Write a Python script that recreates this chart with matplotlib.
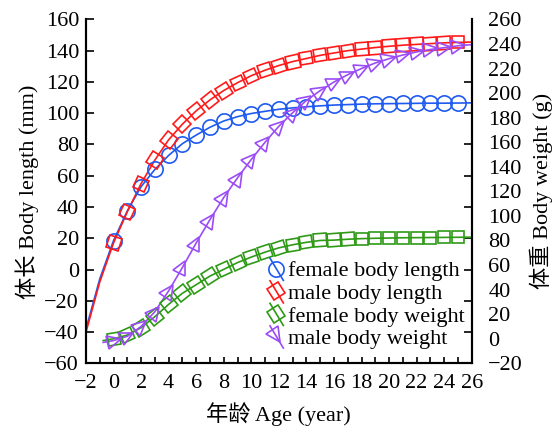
import numpy as np
import matplotlib
matplotlib.use('Agg')
import matplotlib.pyplot as plt
from matplotlib.lines import Line2D
from matplotlib.markers import MarkerStyle
from matplotlib.transforms import Affine2D
from matplotlib.legend_handler import HandlerBase

plt.rcParams['font.family'] = ['Liberation Serif', 'Noto Sans CJK SC']
plt.rcParams['font.size'] = 16

# ---- data ----
AGE = list(range(26))
F_LEN = [18.5, 37.5, 53, 64, 73, 80.5, 86, 91, 95, 97.8, 99.8, 101.2, 102.5,
         103.4, 104.1, 104.7, 105.2, 105.5, 105.8, 106, 106.1, 106.2, 106.3,
         106.4, 106.4, 106.5]
M_LEN = [17, 37, 55, 70, 83, 93, 101.5, 108.5, 114.5, 119.5, 124, 127.5, 130.5,
         133, 135, 137, 138.5, 140, 141, 142, 142.8, 143.5, 144, 144.5, 145, 145.3]
F_WT = [0, 3, 9, 18, 28, 37, 44, 51, 56.5, 62, 66.5, 70.5, 74, 76.5, 78.5, 80,
        80.3, 81, 81.5, 81.8, 82, 82.2, 82.3, 82.4, 82.5, 82.6]
M_WT = [-1.5, 2, 10, 22, 39, 58, 78, 97, 115, 131, 146, 160, 173, 184, 194, 202,
        209, 215, 220, 224.5, 228, 231, 233.5, 235.5, 237, 238.5]

# line-only ends of the fitted curves (no markers there)
LEN_HEAD_AGE = [-2, -1]
F_LEN_HEAD = [-38, -6]
M_LEN_HEAD = [-40, -8]
WT_HEAD_AGE = [-0.75]
F_WT_HEAD = [-1.5]
M_WT_HEAD = [-3]
TAIL_AGE = [26]
F_LEN_TAIL = [106.6]
M_LEN_TAIL = [145.5]
F_WT_TAIL = [82.7]
M_WT_TAIL = [239.5]

LABELS = ['female body length', 'male body length', 'female body weight', 'male body weight']
C_BLUE, C_RED, C_GREEN, C_PURPLE = '#1f5af0', '#ff1a1a', '#2e9a16', '#9b4cf5'

fig = plt.figure(figsize=(5.55, 4.34), dpi=100)
ax = fig.add_axes([86/555, 1-363.3/434, (471.7-86)/555, (363.3-19.4)/434])
ax2 = ax.twinx()
ax.set_xlim(-2, 26); ax.set_ylim(-60, 160)
ax2.set_ylim(-20, 260)

series = [
    (ax, LEN_HEAD_AGE, F_LEN_HEAD, F_LEN, F_LEN_TAIL, C_BLUE, 'o', 11),
    (ax, LEN_HEAD_AGE, M_LEN_HEAD, M_LEN, M_LEN_TAIL, C_RED, 's', 9),
    (ax2, WT_HEAD_AGE, F_WT_HEAD, F_WT, F_WT_TAIL, C_GREEN, 's', 9),
    (ax2, WT_HEAD_AGE, M_WT_HEAD, M_WT, M_WT_TAIL, C_PURPLE, '>', 10),
]
handles = []
for a, hx, hy, vals, tail, c, m, ms in series:
    cx = np.array(hx + AGE + TAIL_AGE, float)
    cy = np.array(hy + vals + tail, float)
    a.plot(cx, cy, color=c, lw=1.2, zorder=2)
    # markers turned along the curve direction (screen space)
    d = a.transData.transform(np.column_stack([cx, cy]))
    ang = np.degrees(np.arctan2(np.gradient(d[:, 1]), np.gradient(d[:, 0])))
    ang_m = np.interp(AGE, cx, ang)
    for x, y, t in zip(AGE, vals, ang_m):
        a.plot([x], [y], ls='none', marker=MarkerStyle(m, transform=Affine2D().rotate_deg(t)),
               ms=ms, mfc='none', mec=c, mew=1.2, zorder=3)
    handles.append(Line2D([], [], color=c, lw=1.2, marker=m, ms=ms))


class SlantHandler(HandlerBase):
    def create_artists(self, legend, orig_handle, xdescent, ydescent, width, height, fontsize, trans):
        x0 = -xdescent
        yc = -ydescent + height / 2
        xs = [x0, x0 + width]
        ys = [yc + 7.5, yc - 8.5]
        ang = np.degrees(np.arctan2(ys[1] - ys[0], xs[1] - xs[0]))
        c = orig_handle.get_color()
        ln = Line2D(xs, ys, color=c, lw=1.2)
        t = 7.5 / 16
        mk = Line2D([xs[0] + t * width], [yc], ls='none',
                    marker=MarkerStyle(orig_handle.get_marker(), transform=Affine2D().rotate_deg(ang)),
                    ms=orig_handle.get_markersize(), mfc='none', mec=c, mew=1.2)
        ln.set_transform(trans); mk.set_transform(trans)
        return [ln, mk]


ax2.legend(handles, LABELS, handler_map={Line2D: SlantHandler()}, frameon=False,
           loc='upper left', bbox_to_anchor=(0.4865, 0.399), bbox_transform=fig.transFigure,
           borderpad=0, borderaxespad=0, handlelength=0.6, handletextpad=0.2,
           labelspacing=0.09, fontsize=16)

# axes styling
for a in (ax, ax2):
    a.spines['top'].set_visible(False)
    for s in ('left', 'right', 'bottom'):
        a.spines[s].set_linewidth(1.5)
ax.set_xticks(np.arange(-2, 27, 2))
ax.set_xticks(np.arange(-2, 27, 1), minor=True)
ax.set_yticks(np.arange(-60, 161, 20))
ax.tick_params(axis='x', which='both', direction='in', length=4, width=1.2, pad=8)
ax.tick_params(axis='y', which='both', direction='in', length=6, width=1.2, pad=5)
ax2.set_yticks(np.arange(-20, 261, 20))
ax2.set_yticks(-20 + (np.arange(-60, 161, 20) + 60) * 280 / 220, minor=True)
ax2.tick_params(axis='y', which='major', length=0, pad=12)
ax2.tick_params(axis='y', which='minor', direction='in', length=6, width=1.2)

ax.set_xlabel('年龄 Age (year)', labelpad=6)
ax.set_ylabel('体长 Body length (mm)', labelpad=4)
ax2.set_ylabel('体重 Body weight (g)', labelpad=5)

fig.savefig('out.png', dpi=100)
